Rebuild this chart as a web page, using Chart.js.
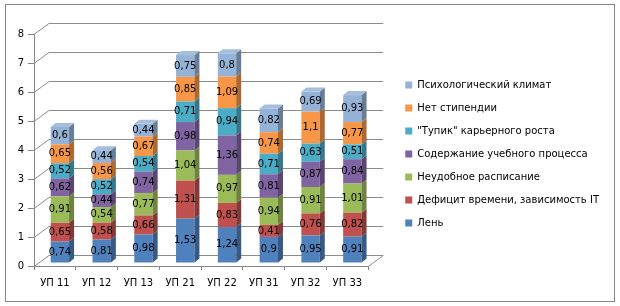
<!DOCTYPE html>
<html>
<head>
<meta charset="utf-8">
<script src="https://cdn.jsdelivr.net/npm/chart.js@4.4.0/dist/chart.umd.min.js"></script>
<style>
html, body { margin: 0; padding: 0; background: #fff; }
</style>
</head>
<body>
<canvas id="chart" width="620" height="306"></canvas>
<script>
// DATA
var groups = ['УП 11', 'УП 12', 'УП 13', 'УП 21', 'УП 22', 'УП 31', 'УП 32', 'УП 33'];
var seriesNames = ['Лень', 'Дефицит времени, зависимость IT', 'Неудобное расписание',
    'Содержание учебного процесса', '"Тупик" карьерного роста', 'Нет стипендии', 'Психологический климат'];
var lazy        = [0.74, 0.81, 0.98, 1.53, 1.24, 0.9,  0.95, 0.91];
var noTime      = [0.65, 0.58, 0.66, 1.31, 0.83, 0.41, 0.76, 0.82];
var badSchedule = [0.91, 0.54, 0.77, 1.04, 0.97, 0.94, 0.91, 1.01];
var content     = [0.62, 0.44, 0.74, 0.98, 1.36, 0.81, 0.87, 0.84];
var deadEnd     = [0.52, 0.52, 0.54, 0.71, 0.94, 0.71, 0.63, 0.51];
var noGrant     = [0.65, 0.56, 0.67, 0.85, 1.09, 0.74, 1.1,  0.77];
var climate     = [0.6,  0.44, 0.44, 0.75, 0.8,  0.82, 0.69, 0.93];
var yMin = 0, yMax = 8, yStep = 1;

var seriesValues = [lazy, noTime, badSchedule, content, deadEnd, noGrant, climate];
var colors = ['#4F81BD', '#C0504D', '#9BBB59', '#8064A2', '#4BACC6', '#F79646', '#95B3D7'];

// 3D look
var SHIFT_X = 5, SHIFT_Y = -3;   // bars sit a bit behind the front edge
var DEPTH_X = 15, DEPTH_Y = 11;  // back wall offset
var SIDE_X = 5, SIDE_Y = 4;      // bar side / top thickness
var FONT = 'DejaVu Sans';

function mix(hex, target, k) {
    var r = parseInt(hex.substr(1, 2), 16), g = parseInt(hex.substr(3, 2), 16), b = parseInt(hex.substr(5, 2), 16);
    r = Math.round(r + (target - r) * k);
    g = Math.round(g + (target - g) * k);
    b = Math.round(b + (target - b) * k);
    return 'rgb(' + r + ',' + g + ',' + b + ')';
}

var datasets = seriesValues.map(function(vals, i) {
    return {
        label: seriesNames[i],
        data: vals,
        backgroundColor: colors[i],
        borderWidth: 0,
        barPercentage: 0.44,
        categoryPercentage: 1,
        clip: false
    };
});

var box3d = {
    id: 'box3d',
    beforeDatasetsDraw: function(chart) {
        var ctx = chart.ctx, a = chart.chartArea, ys = chart.scales.y;
        ctx.save();
        ctx.strokeStyle = '#8c8c8c';
        ctx.lineWidth = 1;
        ys.ticks.forEach(function(t) {
            var py = Math.round(ys.getPixelForValue(t.value)) + 0.5;
            ctx.beginPath();
            ctx.moveTo(a.left, py);
            ctx.lineTo(a.left + DEPTH_X, py - DEPTH_Y);
            ctx.lineTo(a.right + DEPTH_X, py - DEPTH_Y);
            ctx.stroke();
        });
        var pb = Math.round(a.bottom) + 0.5;
        ctx.beginPath();
        ctx.moveTo(a.right, pb);
        ctx.lineTo(a.right + DEPTH_X, pb - DEPTH_Y);
        ctx.stroke();
        ctx.restore();

        ctx.save();
        ctx.translate(SHIFT_X, SHIFT_Y);
    },
    afterDatasetsDraw: function(chart) {
        var ctx = chart.ctx;
        var n = chart.data.datasets.length;
        chart.data.datasets.forEach(function(ds, di) {
            var meta = chart.getDatasetMeta(di);
            meta.data.forEach(function(bar) {
                var p = bar.getProps(['x', 'y', 'base', 'width'], true);
                var right = p.x + p.width / 2, left = p.x - p.width / 2;
                ctx.fillStyle = mix(colors[di], 0, 0.3);
                ctx.beginPath();
                ctx.moveTo(right, p.y);
                ctx.lineTo(right + SIDE_X, p.y - SIDE_Y);
                ctx.lineTo(right + SIDE_X, p.base - SIDE_Y);
                ctx.lineTo(right, p.base);
                ctx.closePath();
                ctx.fill();
                if (di === n - 1) {
                    ctx.fillStyle = mix(colors[di], 255, 0.15);
                    ctx.beginPath();
                    ctx.moveTo(left, p.y);
                    ctx.lineTo(left + SIDE_X, p.y - SIDE_Y);
                    ctx.lineTo(right + SIDE_X, p.y - SIDE_Y);
                    ctx.lineTo(right, p.y);
                    ctx.closePath();
                    ctx.fill();
                }
            });
        });
        // value labels
        ctx.fillStyle = '#000';
        ctx.font = '10px "' + FONT + '"';
        ctx.textAlign = 'center';
        ctx.textBaseline = 'middle';
        chart.data.datasets.forEach(function(ds, di) {
            var meta = chart.getDatasetMeta(di);
            meta.data.forEach(function(bar, i) {
                var p = bar.getProps(['x', 'y', 'base'], true);
                ctx.fillText(String(ds.data[i]).replace('.', ','), p.x, (p.y + p.base) / 2);
            });
        });
        ctx.restore();
    },
    afterDraw: function(chart) {
        var ctx = chart.ctx;
        ctx.save();
        ctx.strokeStyle = '#868686';
        ctx.lineWidth = 1;
        ctx.strokeRect(5.5, 4.5, 609, 297);
        ctx.restore();
    }
};

var chart = new Chart(document.getElementById('chart'), {
    type: 'bar',
    data: { labels: groups, datasets: datasets },
    options: {
        responsive: false,
        animation: false,
        devicePixelRatio: 1,
        layout: { padding: { top: 12, bottom: 10, left: 0, right: 11 } },
        plugins: {
            tooltip: { enabled: false },
            legend: {
                position: 'right',
                reverse: true,
                maxWidth: 220,
                labels: {
                    boxWidth: 7,
                    boxHeight: 7,
                    padding: 13,
                    color: '#000',
                    font: { family: FONT, size: 10 }
                }
            }
        },
        scales: {
            x: {
                stacked: true,
                grid: { drawOnChartArea: false, tickLength: 4, color: '#868686' },
                border: { color: '#868686' },
                ticks: { color: '#000', padding: 7, maxRotation: 0, autoSkip: false, font: { family: FONT, size: 10 } }
            },
            xt: {
                position: 'top',
                display: true,
                afterFit: function(s) { s.height = 22; },
                grid: { display: false },
                border: { display: false },
                ticks: { display: false }
            },
            y: {
                stacked: true,
                min: yMin,
                max: yMax,
                afterFit: function(s) { s.width = 34; },
                grid: { drawOnChartArea: false, tickLength: 6, color: '#868686' },
                border: { color: '#868686' },
                ticks: { stepSize: yStep, color: '#000', padding: 4, font: { family: FONT, size: 10 } }
            },
            yr: {
                position: 'right',
                display: true,
                afterFit: function(s) { s.width = 24; },
                grid: { display: false },
                border: { display: false },
                ticks: { display: false }
            }
        }
    },
    plugins: [box3d]
});
</script>
</body>
</html>
